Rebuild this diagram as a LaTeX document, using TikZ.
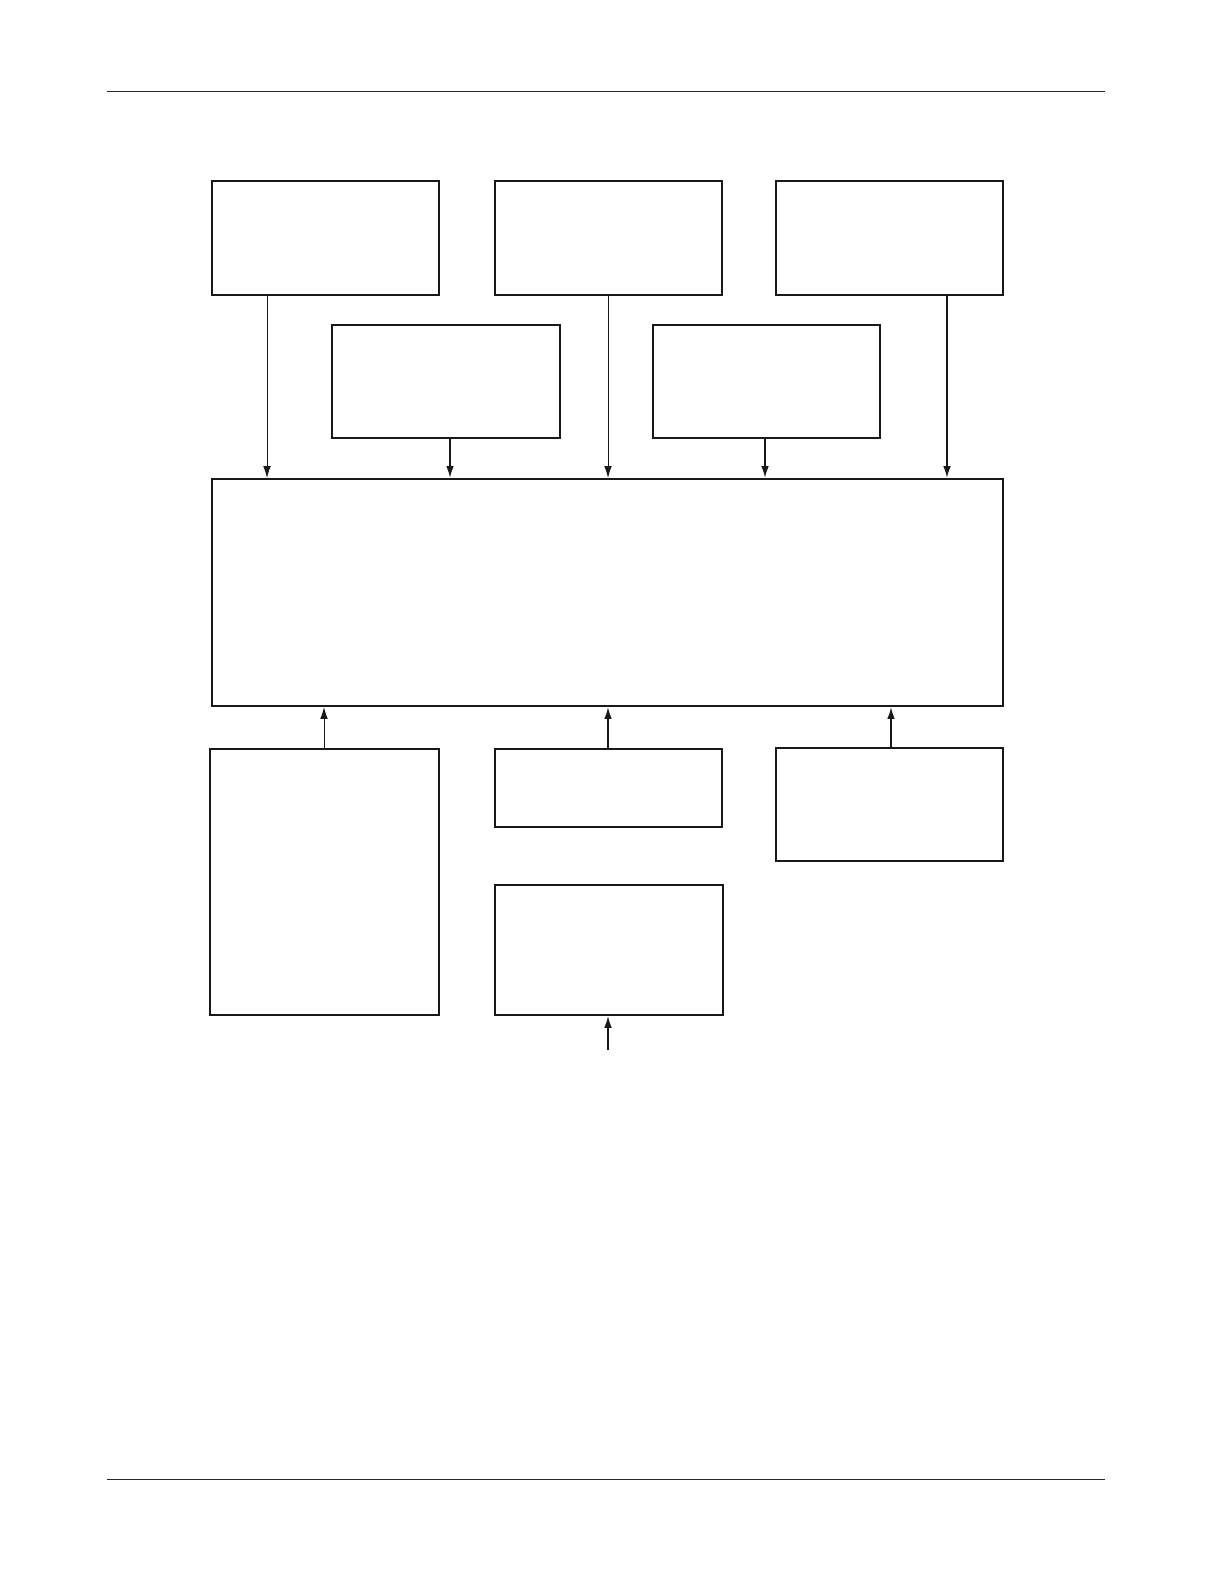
\documentclass[tikz,border=0pt]{standalone}
\usetikzlibrary{arrows.meta}
\begin{document}
\begin{tikzpicture}[x=0.6pt,y=-0.6pt,
  box/.style={draw=black!90,line width=1.1pt,rectangle,inner sep=0pt,fill=white},
  thinarr/.style={draw=black!90,line width=0.6pt,-{Latex[length=7.2pt,width=4.6pt]}},
  thickarr/.style={draw=black!90,line width=1.1pt,-{Latex[length=7.2pt,width=4.6pt]}},
  rule/.style={draw=black!85,line width=0.6pt}]
\useasboundingbox[fill=white] (0,0) rectangle (1224,1584);
% header and footer rules
\coordinate (hl) at (107,91); \coordinate (hr) at (1105,91);
\coordinate (fl) at (107,1479); \coordinate (fr) at (1105,1479);
\draw[rule] (hl) -- (hr);
\draw[rule] (fl) -- (fr);
% top row
\node[box,minimum width=227*0.6pt,minimum height=114*0.6pt] (A) at (325.5,238) {};
\node[box,minimum width=227*0.6pt,minimum height=114*0.6pt] (B) at (608.5,238) {};
\node[box,minimum width=227*0.6pt,minimum height=114*0.6pt] (C) at (889.5,238) {};
% second row
\node[box,minimum width=228*0.6pt,minimum height=113*0.6pt] (D) at (446,381.5) {};
\node[box,minimum width=227*0.6pt,minimum height=113*0.6pt] (E) at (766.5,381.5) {};
% main box
\node[box,minimum width=791*0.6pt,minimum height=227*0.6pt] (M) at (607.5,592.5) {};
% bottom
\node[box,minimum width=229*0.6pt,minimum height=266*0.6pt] (F) at (324.5,882) {};
\node[box,minimum width=227*0.6pt,minimum height=78*0.6pt] (G) at (608.5,788) {};
\node[box,line width=0.9pt,minimum width=227*0.6pt,minimum height=113*0.6pt] (H) at (889.5,804.5) {};
\node[box,line width=0.9pt,minimum width=228*0.6pt,minimum height=130*0.6pt] (I) at (609,950) {};
\coordinate (in) at (608,1050);
% arrows down
\draw[thinarr] (A.south -| 267,0) -- (M.north -| 267,0);
\draw[thickarr] (D.south -| 450,0) -- (M.north -| 450,0);
\draw[thinarr] (B.south -| 608,0) -- (M.north -| 608,0);
\draw[thickarr] (E.south -| 765,0) -- (M.north -| 765,0);
\draw[thickarr] (C.south -| 947,0) -- (M.north -| 947,0);
% arrows up
\draw[thinarr] (F.north -| 324,0) -- (M.south -| 324,0);
\draw[thickarr] (G.north -| 608,0) -- (M.south -| 608,0);
\draw[thickarr] (H.north -| 891,0) -- (M.south -| 891,0);
\draw[thickarr] (in) -- (I.south -| in);
\end{tikzpicture}
\end{document}
